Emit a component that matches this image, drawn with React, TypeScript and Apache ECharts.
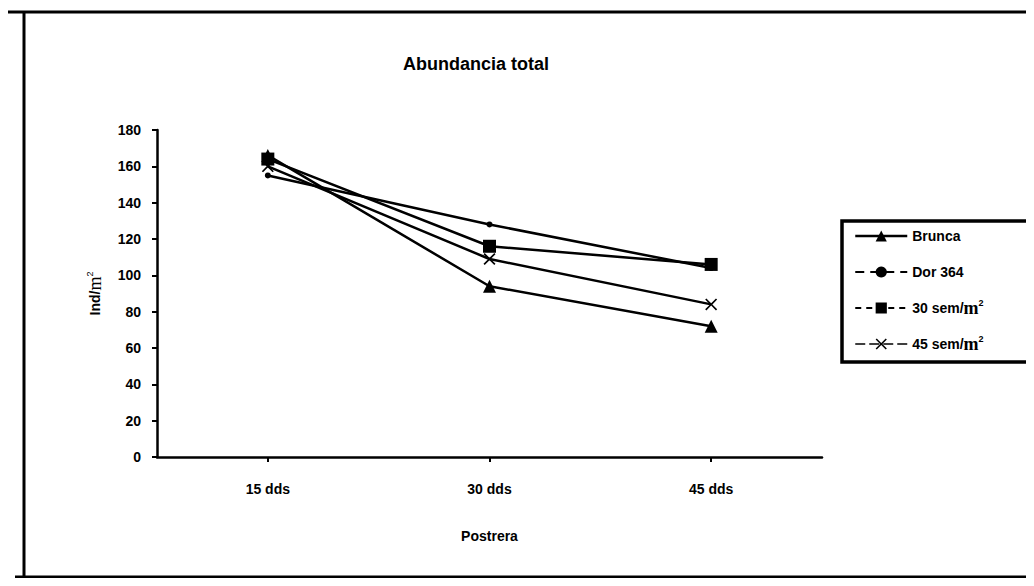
import React, { useEffect, useRef } from "react";
import * as echarts from "echarts";

const categories = ["15 dds", "30 dds", "45 dds"];
const brunca = [166, 94, 72];
const dor364 = [155, 128, 104];
const sem30 = [164, 116, 106];
const sem45 = [160, 109, 84];
const yTicks = { min: 0, max: 180, interval: 20 };

const FONT = "'Liberation Sans', Arial, sans-serif";
const X_SYMBOL = "path://M0,1 L1,0 L5,4 L9,0 L10,1 L6,5 L10,9 L9,10 L5,6 L1,10 L0,9 L4,5 Z";

export default function App() {
  const ref = useRef<HTMLDivElement>(null);
  useEffect(() => {
    if (!ref.current) return;
    const chart = echarts.init(ref.current, undefined, { renderer: "svg" });
    const rich = {
      a: { fontFamily: FONT, fontWeight: "bold", fontSize: 14, color: "#000", height: 20, lineHeight: 20 },
      m: { fontFamily: "'Liberation Serif', 'Times New Roman', serif", fontSize: 18, color: "#000", height: 20, lineHeight: 20 },
      s: { fontFamily: FONT, fontSize: 9, color: "#000", verticalAlign: "top", padding: [0, 0, 10, 0] },
    };
    const mkSeries = (name: string, data: number[], symbol: string, size: number) => ({
      name,
      type: "line",
      data,
      symbol,
      symbolSize: size,
      lineStyle: { color: "#000", width: 2.5, type: "solid" },
      itemStyle: { color: "#000" },
      z: 3,
    });
    chart.setOption({
      animation: false,
      backgroundColor: "#fff",
      title: {
        text: "Abundancia total",
        left: 471,
        textAlign: "center",
        top: 50,
        textStyle: { fontFamily: FONT, fontWeight: "bold", fontSize: 18, color: "#000" },
      },
      grid: { left: 157, right: 212, top: 130, bottom: 129, containLabel: false },
      legend: {
        orient: "vertical",
        left: 849,
        top: 221,
        itemWidth: 52,
        itemHeight: 14,
        itemGap: 16,
        textStyle: { fontFamily: FONT, fontWeight: "bold", fontSize: 14, color: "#000", lineHeight: 20, height: 20, rich },
        formatter: (name: string) => {
          if (name === "30 sem/m2") return "{a|30 sem/}{m|m}{s|2}";
          if (name === "45 sem/m2") return "{a|45 sem/}{m|m}{s|2}";
          return "{a|" + name + "}";
        },
        data: [
          { name: "Brunca", lineStyle: { type: "solid", width: 2.5, color: "#000" } },
          { name: "Dor 364", lineStyle: { type: [9, 6], width: 2, color: "#000" } },
          { name: "30 sem/m2", lineStyle: { type: [6, 5], width: 2, color: "#000" } },
          { name: "45 sem/m2", lineStyle: { type: [10, 4], width: 1.5, color: "#000" } },
        ],
      },
      xAxis: {
        type: "category",
        data: categories,
        boundaryGap: true,
        name: "Postrera",
        nameLocation: "middle",
        nameGap: 72,
        nameTextStyle: { fontFamily: FONT, fontWeight: "bold", fontSize: 14, color: "#000" },
        axisLine: { lineStyle: { color: "#000", width: 2.5 } },
        axisTick: { show: true, alignWithLabel: true, length: 5, lineStyle: { color: "#000", width: 2 } },
        axisLabel: { fontFamily: FONT, fontWeight: "bold", fontSize: 14, color: "#000", margin: 25 },
        splitLine: { show: false },
      },
      yAxis: {
        type: "value",
        min: yTicks.min,
        max: yTicks.max,
        interval: yTicks.interval,
        name: "{a|Ind/}{m|m}{s|2}",
        nameLocation: "middle",
        nameGap: 52,
        nameRotate: 90,
        nameTextStyle: { rich },
        axisLine: { show: true, lineStyle: { color: "#000", width: 2.5 } },
        axisTick: { show: true, length: 5, inside: false, lineStyle: { color: "#000", width: 2 } },
        axisLabel: { fontFamily: FONT, fontWeight: "bold", fontSize: 14, color: "#000", margin: 16 },
        splitLine: { show: false },
      },
      graphic: [
        { type: "line", shape: { x1: 5, y1: 12, x2: 1030, y2: 12 }, style: { stroke: "#000", lineWidth: 3 } },
        { type: "line", shape: { x1: 24, y1: 12, x2: 24, y2: 578 }, style: { stroke: "#000", lineWidth: 3 } },
        { type: "line", shape: { x1: 15, y1: 577, x2: 1034, y2: 577 }, style: { stroke: "#000", lineWidth: 3 } },
        {
          type: "rect",
          shape: { x: 842, y: 221, width: 186, height: 141 },
          style: { fill: "none", stroke: "#000", lineWidth: 3.5 },
          z: 10,
        },
      ],
      series: [
        mkSeries("Brunca", brunca, "triangle", 13),
        mkSeries("Dor 364", dor364, "circle", 6),
        mkSeries("30 sem/m2", sem30, "rect", 13),
        mkSeries("45 sem/m2", sem45, X_SYMBOL, 12),
      ],
    });
    return () => chart.dispose();
  }, []);
  return <div ref={ref} style={{ width: 1034, height: 586, margin: -8 }} />;
}
